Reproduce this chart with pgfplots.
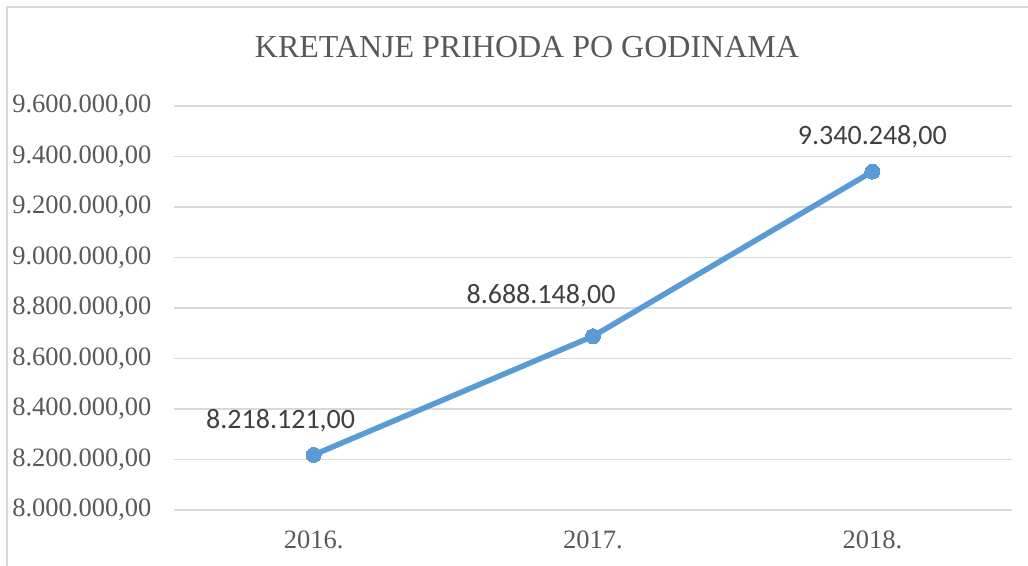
\documentclass[border=0pt]{standalone}
\usepackage{pgfplots}
\pgfplotsset{compat=1.18}
\usepackage{fontspec}
\setmainfont{Liberation Serif}
\newfontfamily\calib{Carlito}
\definecolor{lineblue}{HTML}{5B9BD5}
\definecolor{gridgray}{HTML}{D9D9D9}
\definecolor{txtgray}{HTML}{595959}
\definecolor{lblgray}{HTML}{404040}
\begin{document}
\begin{tikzpicture}[x=1bp,y=1bp]
\useasboundingbox (0,0) rectangle (1028,566);
\draw[gridgray, line width=1.5bp] (7,-10) -- (7,559) -- (1040,559);
\node[txtgray, font=\fontsize{32bp}{38bp}\selectfont] at (527,519) {KRETANJE PRIHODA PO GODINAMA};
\begin{axis}[
  at={(174bp,56bp)}, anchor=south west,
  scale only axis, width=838bp, height=404bp,
  xmin=-0.5, xmax=2.5, ymin=8000000, ymax=9600000,
  xtick={0,1,2}, xticklabels={2016.,2017.,2018.},
  ytick={8000000,8200000,...,9600000},
  scaled y ticks=false,
  axis line style={draw=none},
  major tick length=0pt,
  ymajorgrids, grid style={gridgray, line width=1.5bp},
  /pgf/number format/assume math mode=true,
  yticklabel={\pgfmathprintnumber[fixed, fixed zerofill, precision=2, 1000 sep={.}, use comma]{\tick}},
  ticklabel style={txtgray, font=\fontsize{26.5bp}{31bp}\selectfont},
  yticklabel style={xshift=-19bp},
  xticklabel style={yshift=-17bp},
  clip=false,
]
\addplot[lineblue, line width=5.5bp, mark=*, mark size=7.5bp, mark options={fill=lineblue, draw=lineblue, line width=0pt},
  visualization depends on={\thisrow{dx}\as\dx},
  visualization depends on={\thisrow{dy}\as\dy},
  nodes near coords={\pgfmathprintnumber[fixed, fixed zerofill, precision=2, 1000 sep={.}, use comma, assume math mode=true]{\pgfplotspointmeta}},
  point meta=explicit,
  nodes near coords style={lblgray, font=\calib\fontsize{28bp}{33bp}\selectfont, anchor=center, xshift=\dx bp, yshift=\dy bp},
] table[x=x, y=y, meta=y] {
x y dx dy
0 8218121 -33 34
1 8688148 -52 41
2 9340248 0 35
};
\end{axis}
\end{tikzpicture}
\end{document}
